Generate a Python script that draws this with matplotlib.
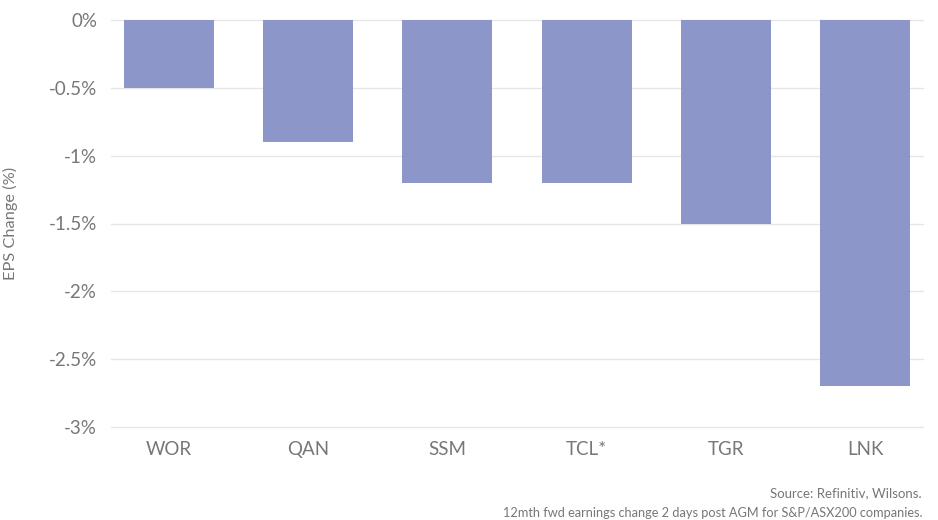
import matplotlib
matplotlib.use("Agg")
import matplotlib.pyplot as plt
from matplotlib.ticker import FuncFormatter

categories = ["WOR", "QAN", "SSM", "TCL*", "TGR", "LNK"]
eps_change = [-0.5, -0.9, -1.2, -1.2, -1.5, -2.7]
y_ticks = [0, -0.5, -1, -1.5, -2, -2.5, -3]

plt.rcParams['font.family'] = ['Lato', 'DejaVu Sans']

W, H = 938, 520
fig = plt.figure(figsize=(W/100, H/100), dpi=100)
ax = fig.add_axes([111/W, 1-427/H, (923-111)/W, (427-20)/H])

x = list(range(len(categories)))
ax.bar(x, eps_change, width=0.647, color="#8c96c9", zorder=2)
ax.set_xlim(-0.4167, 5.417)
ax.set_ylim(-3, 0)
ax.set_yticks(y_ticks)
ax.yaxis.set_major_formatter(FuncFormatter(lambda v, p: f"{v:g}%"))
ax.set_xticks(x)
ax.set_xticklabels(categories)
ax.grid(axis='y', color="#e6e6e6", linewidth=1, zorder=0)
for gl in ax.get_ygridlines():
    gl.set_clip_on(False)
for s in ax.spines.values():
    s.set_visible(False)
ax.tick_params(axis='both', length=0, colors="#777777", labelsize=13.5)
ax.tick_params(axis='y', pad=10)
ax.tick_params(axis='x', pad=10)
ax.set_ylabel("EPS Change (%)", color="#777777", fontsize=11.8)
ax.yaxis.set_label_coords(-93/812, 0.5)

fig.text(922/W, 1-493/H, "Source: Refinitiv, Wilsons.", ha='right', va='center', color="#777777", fontsize=9.5)
fig.text(922/W, 1-513/H, "12mth fwd earnings change 2 days post AGM for S&P/ASX200 companies.", ha='right', va='center', color="#777777", fontsize=9.2)

fig.savefig("out.png", dpi=100)
